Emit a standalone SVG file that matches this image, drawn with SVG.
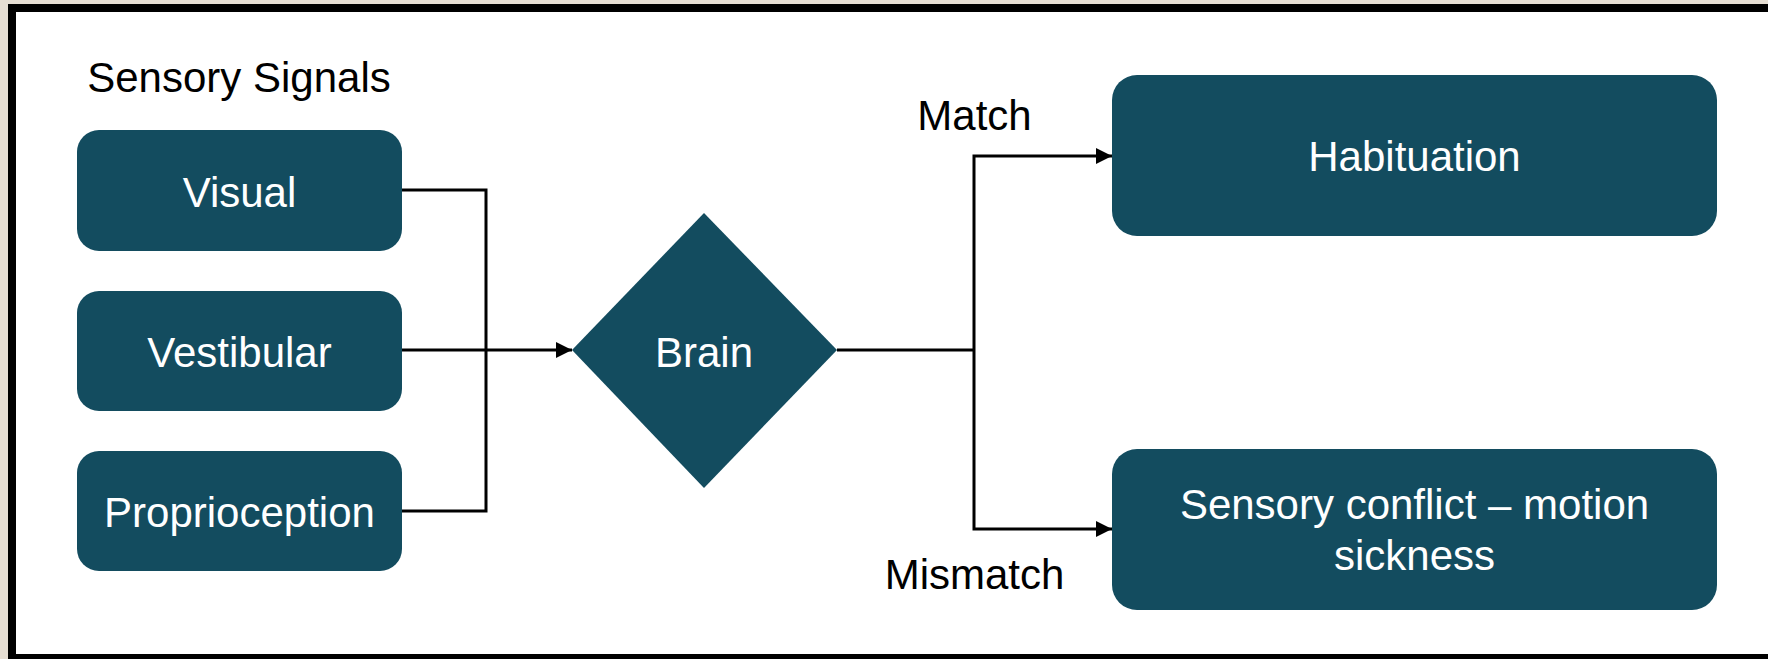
<svg xmlns="http://www.w3.org/2000/svg" width="1768" height="659" viewBox="0 0 1768 659">
  <style>
    .node { fill: #134c5f; }
    .lbl { font-family: "Liberation Sans", Arial, sans-serif; font-size: 42px; fill: #ffffff; text-anchor: middle; }
    .cap { font-family: "Liberation Sans", Arial, sans-serif; font-size: 42px; fill: #000000; text-anchor: middle; }
    .wire { fill: none; stroke: #000000; stroke-width: 3; }
  </style>
  <defs>
    <marker id="arrow" viewBox="0 0 16 16" refX="16" refY="8" markerWidth="16" markerHeight="16" markerUnits="userSpaceOnUse" orient="auto">
      <path d="M0,0 L16,8 L0,16 Z" fill="#000000"/>
    </marker>
  </defs>

  <!-- frame -->
  <rect x="0" y="0" width="1768" height="659" fill="#e6ded3"/>
  <rect x="8" y="4" width="1760" height="655" fill="#000000"/>
  <rect x="16" y="12" width="1752" height="642" fill="#ffffff"/>

  <text class="cap" x="239" y="92">Sensory Signals</text>

  <g id="visual">
    <rect class="node" x="77" y="130" width="325" height="121" rx="22"/>
    <text class="lbl" x="239.5" y="207">Visual</text>
  </g>
  <g id="vestibular">
    <rect class="node" x="77" y="291" width="325" height="120" rx="22"/>
    <text class="lbl" x="239.5" y="367">Vestibular</text>
  </g>
  <g id="proprioception">
    <rect class="node" x="77" y="451" width="325" height="120" rx="22"/>
    <text class="lbl" x="239.5" y="527">Proprioception</text>
  </g>

  <g id="brain">
    <polygon class="node" points="704,213 837,350 704,488 572,350"/>
    <text class="lbl" x="704" y="367">Brain</text>
  </g>

  <g id="habituation">
    <rect class="node" x="1112" y="75" width="605" height="161" rx="25"/>
    <text class="lbl" x="1414.5" y="171">Habituation</text>
  </g>
  <g id="conflict">
    <rect class="node" x="1112" y="449" width="605" height="161" rx="25"/>
    <text class="lbl" x="1414.5" y="519">Sensory conflict – motion</text>
    <text class="lbl" x="1414.5" y="570">sickness</text>
  </g>

  <g id="connectors">
    <polyline class="wire" points="402,190 486,190 486,511 402,511"/>
    <line class="wire" x1="402" y1="350" x2="572" y2="350" marker-end="url(#arrow)"/>
    <line class="wire" x1="837" y1="350" x2="974" y2="350"/>
    <polyline class="wire" points="974,350 974,156 1112,156" marker-end="url(#arrow)"/>
    <polyline class="wire" points="974,350 974,529 1112,529" marker-end="url(#arrow)"/>
    <text class="cap" x="974.5" y="130">Match</text>
    <text class="cap" x="974.5" y="589">Mismatch</text>
  </g>
</svg>
